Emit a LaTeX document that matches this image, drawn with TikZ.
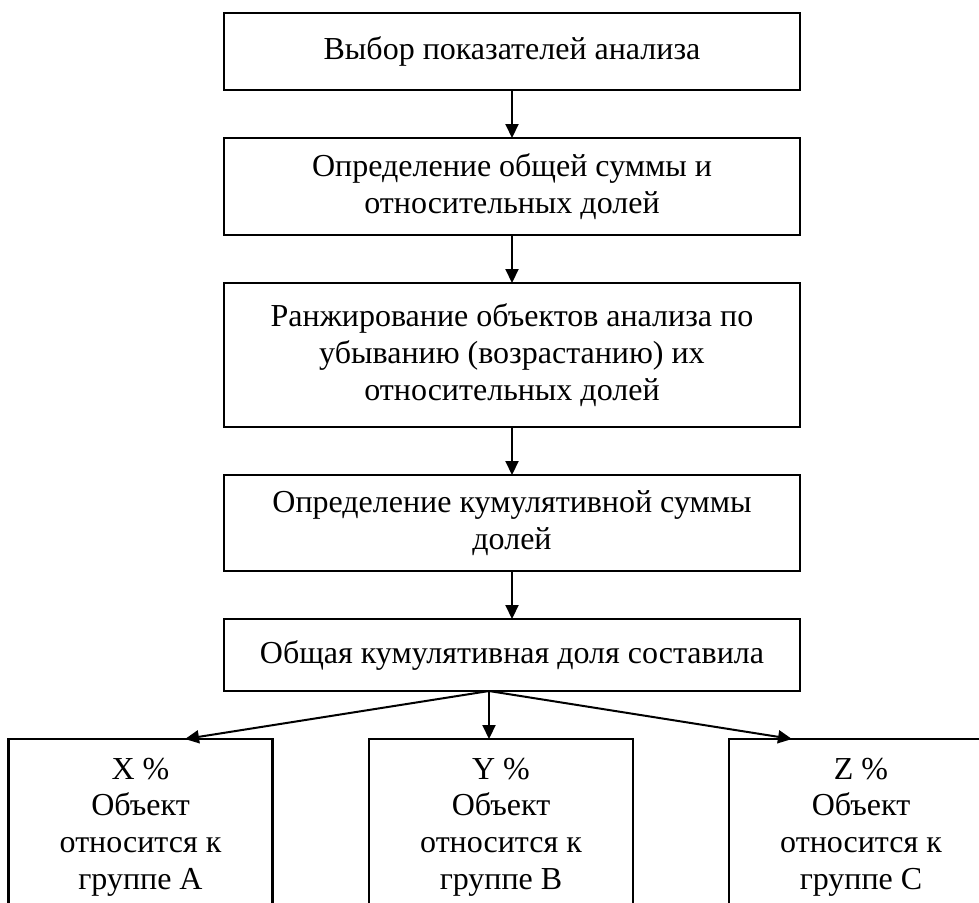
\documentclass[tikz,border=0pt]{standalone}
\usepackage{fontspec}
\setmainfont{Liberation Serif}
\usepackage{tikz}
\usetikzlibrary{arrows.meta}
\usetikzlibrary{positioning}

\begin{document}
\begin{tikzpicture}[>={Triangle[length=7pt,width=6.5pt]}, node distance=24pt]
	\tikzstyle{stage} = [draw, line width=1.1pt, rectangle, minimum width=288pt,
	align=center, inner sep=2pt, outer sep=0pt, font=\fontsize{16pt}{18.4pt}\selectfont]
	\tikzstyle{group} = [stage, minimum width=132pt, minimum height=88pt]

	\useasboundingbox (0,0) rectangle (489.5pt,-451pt);

	\begin{scope}
		\path[->, line width=1pt]
			node[stage, minimum height=38.5pt] (A) at (256pt,-25.75pt) {Выбор показателей анализа}
			node[stage, below=of A, minimum height=48.5pt] (B) {Определение общей суммы и\\относительных долей}
			node[stage, below=of B, minimum height=72pt] (C) {Ранжирование объектов анализа по\\убыванию (возрастанию) их\\относительных долей}
			node[stage, below=of C, minimum height=48pt] (D) {Определение кумулятивной суммы\\долей}
			node[stage, below=of D, minimum height=36pt] (E) {Общая кумулятивная доля составила}

			node[group, below=of E, xshift=-185.75pt] (X) {X \%\\Объект\\относится к\\группе A}
			node[group, below=of E, xshift=-5.5pt] (Y) {Y \%\\Объект\\относится к\\группе B}
			node[group, below=of E, xshift=174.5pt] (Z) {Z \%\\Объект\\относится к\\группе C}

			([xshift=-11.5pt]E.south) coordinate (s)

			(A) edge (B)
			(B) edge (C)
			(C) edge (D)
			(D) edge (E)

			(s) edge ([xshift=22.25pt]X.north)
			(s) edge ([xshift=-6pt]Y.north)
			(s) edge ([xshift=-34.5pt]Z.north)
		;
	\end{scope}
\end{tikzpicture}
\end{document}
